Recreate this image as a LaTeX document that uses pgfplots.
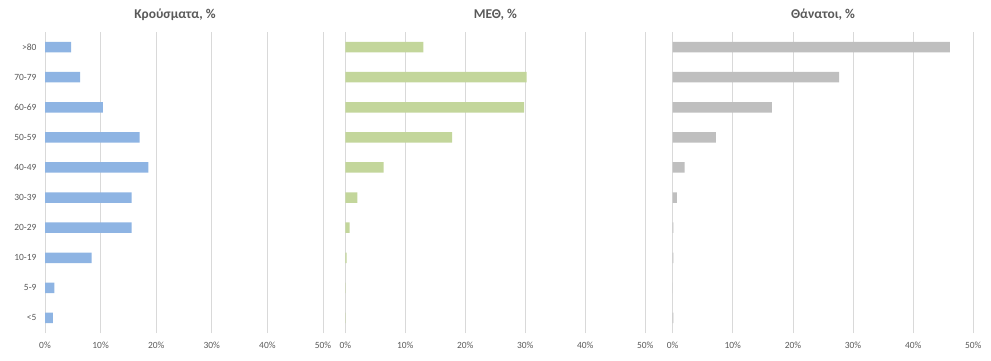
\documentclass[border=0pt]{standalone}
\usepackage{pgfplots}
\pgfplotsset{compat=1.18}
\usepackage{fontspec}
\setmainfont{Carlito}
\definecolor{txt}{HTML}{595959}
\definecolor{gridc}{HTML}{D9D9D9}
\definecolor{cblue}{HTML}{8EB4E3}
\definecolor{cgreen}{HTML}{C3D69B}
\definecolor{cgrey}{HTML}{BFBFBF}
\pgfplotsset{panel/.style={
  scale only axis, height=301bp, xmin=0, xmax=50, ymin=-0.5, ymax=9.5,
  xbar, bar width=10.5bp, bar shift=0pt,
  axis line style={draw=none}, major tick length=0pt,
  xmajorgrids, grid style={gridc, line width=0.75bp},
  xtick={0,10,20,30,40,50}, xticklabels={0\%,10\%,20\%,30\%,40\%,50\%},
  ytick={0,...,9},
  ticklabel style={font=\fontsize{9.5}{11}\selectfont, text=txt},
  xticklabel style={yshift=-6bp},
  yticklabel style={xshift=-5bp},
  title style={font=\bfseries\fontsize{13.5}{15}\selectfont, text=txt, at={(0.5,1)}, anchor=center, yshift=11bp},
  clip=false, anchor=south west,
}}
\begin{document}
\begin{tikzpicture}
\useasboundingbox (0,0) rectangle (991bp,361bp);
\begin{axis}[panel, at={(45bp,28bp)}, width=278bp,
  yticklabels={<5,5-9,10-19,20-29,30-39,40-49,50-59,60-69,70-79,>80},
  title={Κρούσματα, \%}, title style={xshift=-9bp}]
\addplot[draw=none, fill=cblue] coordinates {(1.4,0) (1.7,1) (8.4,2) (15.6,3) (15.6,4) (18.6,5) (17.0,6) (10.4,7) (6.3,8) (4.7,9)};
\end{axis}
\begin{axis}[panel, at={(345.3bp,28bp)}, width=300bp, yticklabels={},
  title={ΜΕΘ, \%}]
\addplot[draw=none, fill=cgreen] coordinates {(0.05,0) (0.05,1) (0.2,2) (0.7,3) (2.0,4) (6.4,5) (17.8,6) (29.8,7) (30.2,8) (13.0,9)};
\end{axis}
\begin{axis}[panel, at={(672.7bp,28bp)}, width=300.6bp, yticklabels={},
  title={Θάνατοι, \%}]
\addplot[draw=none, fill=cgrey] coordinates {(0.1,0) (0,1) (0.1,2) (0.1,3) (0.7,4) (2.0,5) (7.2,6) (16.5,7) (27.7,8) (46.1,9)};
\end{axis}
\end{tikzpicture}
\end{document}
